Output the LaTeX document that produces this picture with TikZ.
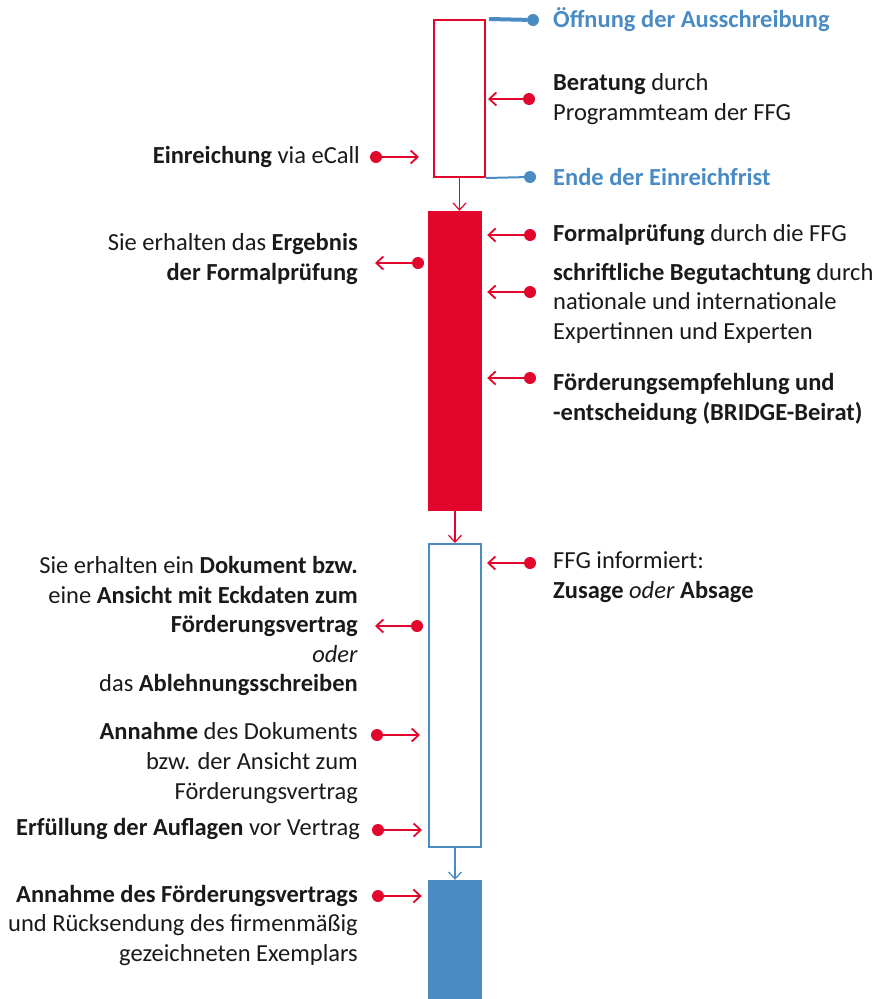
\documentclass[tikz,border=0pt]{standalone}
\usepackage{fontspec}
\setmainfont{Carlito}
\usetikzlibrary{arrows.meta, positioning}
\definecolor{ffgred}{RGB}{227,6,44}
\definecolor{ffgblue}{RGB}{74,139,196}
\definecolor{txt}{RGB}{26,26,26}

\begin{document}
\begin{tikzpicture}[x=1pt, y=-1pt, >={Straight Barb[length=7pt, width=13pt]}, font=\fontsize{24.5}{29.5}\selectfont]

  % Stile
  \tikzstyle{barline} = [rectangle, draw, line width=2pt, fill=white, inner sep=0pt]
  \tikzstyle{barfull} = [rectangle, draw=none, inner sep=0pt]
  \tikzstyle{punkt} = [circle, fill=ffgred, inner sep=0pt, minimum size=12pt]
  \tikzstyle{bpunkt} = [circle, fill=ffgblue, inner sep=0pt, minimum size=12pt]
  \tikzstyle{rtext} = [anchor=west, align=left, text=txt, inner sep=0pt]
  \tikzstyle{ltext} = [anchor=east, align=right, text=txt, inner sep=0pt]
  \tikzstyle{pfeil} = [->, ffgred, line width=1.8pt]

  \useasboundingbox (0,0) rectangle (877,999);

  % Balken
  \node[barline, draw=ffgred, minimum width=51pt, minimum height=157pt] (b1) at (459.5,98.5) {};
  \node[barfull, fill=ffgred, minimum width=54pt, minimum height=300pt] (b2) at (455,361) {};
  \node[barline, draw=ffgblue, minimum width=52pt, minimum height=303pt] (b3) at (455,695.5) {};
  \node[barfull, fill=ffgblue, minimum width=54pt, minimum height=124pt] (b4) at (455,942) {};

  % Verbindungen zwischen den Balken
  \draw[pfeil, line width=1.2pt] (b1.south) -- (b1.south |- b2.north);
  \draw[pfeil, line width=1.2pt] (b2.south) -- (b3.north);
  \draw[->, ffgblue, line width=1.2pt] (b3.south) -- (b4.north);

  % Fristen
  \node[bpunkt] (oe) at (533,20) {};
  \draw[ffgblue, line width=4pt] ([xshift=3pt]b1.north east) -- (oe);
  \node[rtext] (toe) at (553,20) {\color{ffgblue}\textbf{Öffnung der Ausschreibung}};
  \node[bpunkt] (en) at (530,177) {};
  \draw[ffgblue, line width=2pt] (b1.south east) -- (en);
  \node[rtext] (ten) at (553,177) {\color{ffgblue}\textbf{Ende der Einreichfrist}};

  % Einreichung
  \node[punkt] (d1) at (529,99) {};
  \draw[pfeil] (d1) -- ([xshift=2pt]d1 -| b1.east);
  \node[rtext] (t1) at (553,99) {\textbf{Beratung} durch\\Programmteam der FFG};
  \node[punkt] (d2) at (376,157) {};
  \draw[pfeil] (d2) -- ([xshift=-14pt]d2 -| b1.west);
  \node[ltext] (t2) at (360,157) {\textbf{Einreichung} via eCall};

  % Bewertung
  \node[punkt] (d3) at (530,235) {};
  \draw[pfeil] (d3) -- ([xshift=5pt]d3 -| b2.east);
  \node[rtext] (t3) at (553,235) {\textbf{Formalprüfung} durch die FFG};
  \node[punkt] (d4) at (418,263) {};
  \coordinate (e4) at (375,263);
  \draw[pfeil] (d4) -- (e4);
  \node[ltext] (t4) at (358,259) {Sie erhalten das \textbf{Ergebnis}\\\textbf{der Formalprüfung}};
  \node[punkt] (d5) at (530,292) {};
  \draw[pfeil] (d5) -- ([xshift=5pt]d5 -| b2.east);
  \node[rtext] (t5) at (553,303) {\textbf{schriftliche Begutachtung} durch\\nationale und internationale\\Expertinnen und Experten};
  \node[punkt] (d6) at (530,378) {};
  \draw[pfeil] (d6) -- ([xshift=5pt]d6 -| b2.east);
  \node[rtext] (t6) at (553,399) {\textbf{Förderungsempfehlung und}\\\textbf{-entscheidung (BRIDGE-Beirat)}};

  % Entscheidung
  \node[punkt] (d7) at (530,563) {};
  \draw[pfeil] (d7) -- ([xshift=5pt]d7 -| b3.east);
  \node[rtext] (t7) at (553,577) {FFG informiert:\\\textbf{Zusage} \textit{oder} \textbf{Absage}};
  \node[punkt] (d8) at (417,626) {};
  \coordinate (e8) at (375,626);
  \draw[pfeil] (d8) -- (e8);
  \node[ltext] (t8) at (358,626) {Sie erhalten ein \textbf{Dokument bzw.}\\eine \textbf{Ansicht mit Eckdaten zum}\\\textbf{Förderungsvertrag}\\\textit{oder}\\das \textbf{Ablehnungsschreiben}};
  \node[punkt] (d9) at (377,735) {};
  \draw[pfeil] (d9) -- ([xshift=-8pt]d9 -| b3.west);
  \node[ltext] (t9) at (358,763) {\textbf{Annahme} des Dokuments\\bzw. der Ansicht zum\\Förderungsvertrag};
  \node[punkt] (d10) at (378,830) {};
  \draw[pfeil] (d10) -- ([xshift=-6pt]d10 -| b3.west);
  \node[ltext] (t10) at (360,829) {\textbf{Erfüllung der Auflagen} vor Vertrag};

  % Vertrag
  \node[punkt] (d11) at (378,896) {};
  \draw[pfeil] (d11) -- ([xshift=-6pt]d11 -| b4.west);
  \node[ltext] (t11) at (358,925) {\textbf{Annahme des Förderungsvertrags}\\und Rücksendung des firmenmäßig\\gezeichneten Exemplars};

\end{tikzpicture}
\end{document}
